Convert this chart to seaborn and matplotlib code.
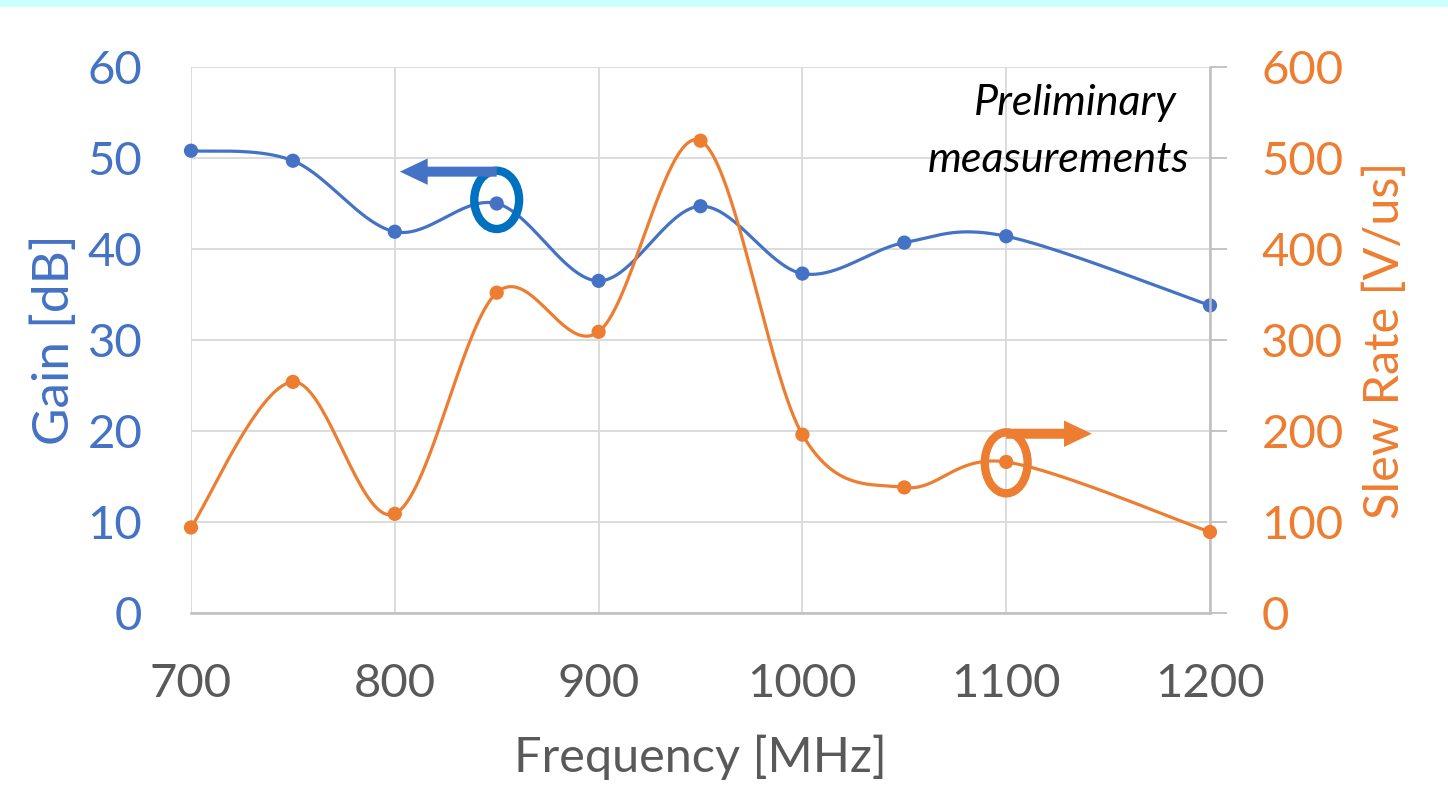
import numpy as np
import matplotlib
matplotlib.use("Agg")
import matplotlib.pyplot as plt
from matplotlib.patches import Ellipse
import seaborn as sns
import pandas as pd

# Measured amplifier performance versus frequency
freq_mhz = [700, 750, 800, 850, 900, 950, 1000, 1050, 1100, 1200]
gain_db = [50.8, 49.7, 41.9, 45.0, 36.5, 44.7, 37.3, 40.7, 41.4, 33.8]
slew_rate = [94, 254, 109, 352, 309, 519, 196, 138, 166, 89]

x_ticks = [700, 800, 900, 1000, 1100, 1200]
gain_ticks = [0, 10, 20, 30, 40, 50, 60]
slew_ticks = [0, 100, 200, 300, 400, 500, 600]

BLUE = "#4472C4"
ORANGE = "#ED7D31"
DARK_BLUE = "#0070C0"
GRID = "#D9D9D9"
AXIS_GRAY = "#BFBFBF"
TEXT_GRAY = "#595959"

W, H = 1448, 794
AX_L, AX_R, AX_T, AX_B = 191, 1210, 67, 613


def smooth_curve(xs, ys, n=40, tension=1 / 6):
    """Smoothed polyline through the points (cubic Bezier segments)."""
    xs = np.asarray(xs, float)
    ys = np.asarray(ys, float)
    px = np.concatenate([[xs[0]], xs, [xs[-1]]])
    py = np.concatenate([[ys[0]], ys, [ys[-1]]])
    out_x, out_y = [], []
    t = np.linspace(0, 1, n)
    for i in range(1, len(px) - 2):
        p0 = np.array([px[i], py[i]])
        p3 = np.array([px[i + 1], py[i + 1]])
        c1 = p0 + (np.array([px[i + 1], py[i + 1]]) - np.array([px[i - 1], py[i - 1]])) * tension
        c2 = p3 - (np.array([px[i + 2], py[i + 2]]) - np.array([px[i], py[i]])) * tension
        b = ((1 - t) ** 3)[:, None] * p0 + (3 * (1 - t) ** 2 * t)[:, None] * c1 \
            + (3 * (1 - t) * t ** 2)[:, None] * c2 + (t ** 3)[:, None] * p3
        out_x.extend(b[:, 0])
        out_y.extend(b[:, 1])
    return np.array(out_x), np.array(out_y)


sns.set_theme(style="white")
plt.rcParams["font.family"] = ["Lato", "DejaVu Sans"]

fig = plt.figure(figsize=(W / 100, H / 100), dpi=100)
fig.patch.set_facecolor("white")
# thin cyan band along the top edge
fig.add_artist(plt.Rectangle((0, 1 - 7 / H), 1, 7 / H, transform=fig.transFigure,
                             facecolor="#CCFFFF", edgecolor="none"))

ax = fig.add_axes([AX_L / W, 1 - AX_B / H, (AX_R - AX_L) / W, (AX_B - AX_T) / H])
ax2 = ax.twinx()

gx, gy = smooth_curve(freq_mhz, gain_db)
sx, sy = smooth_curve(freq_mhz, slew_rate)

df = pd.DataFrame({"freq": freq_mhz, "gain": gain_db, "slew": slew_rate})

sns.lineplot(x=gx, y=gy, ax=ax, color=BLUE, linewidth=2.3, sort=False, zorder=3)
sns.scatterplot(data=df, x="freq", y="gain", ax=ax, color=BLUE, s=105,
                edgecolor="none", zorder=4)
sns.lineplot(x=sx, y=sy, ax=ax2, color=ORANGE, linewidth=2.3, sort=False, zorder=3)
sns.scatterplot(data=df, x="freq", y="slew", ax=ax2, color=ORANGE, s=105,
                edgecolor="none", zorder=4)
for coll in ax.collections + ax2.collections:
    coll.set_clip_on(False)

ax.set_xlim(700, 1200)
ax.set_ylim(0, 60)
ax2.set_ylim(0, 600)
ax.set_xticks(x_ticks)
ax.set_yticks(gain_ticks)
ax2.set_yticks(slew_ticks)

ax.grid(True, color=GRID, linewidth=1.3)
ax2.grid(False)
for sp in ["top", "left", "right"]:
    ax.spines[sp].set_visible(False)
    ax2.spines[sp].set_visible(False)
ax.spines["bottom"].set_color(AXIS_GRAY)
ax.spines["bottom"].set_linewidth(1.8)
ax2.spines["bottom"].set_visible(False)
ax2.spines["right"].set_visible(True)
ax2.spines["right"].set_color(AXIS_GRAY)
ax2.spines["right"].set_linewidth(1.8)

ax.tick_params(axis="x", length=0, pad=36, labelsize=34, labelcolor=TEXT_GRAY)
ax.tick_params(axis="y", length=0, pad=35, labelsize=34, labelcolor=BLUE)
ax2.tick_params(axis="y", length=12, width=1.3, color=AXIS_GRAY, pad=25,
                labelsize=34, labelcolor=ORANGE, right=True)

ax.set_xlabel("Frequency [MHz]", fontsize=35, color=TEXT_GRAY, labelpad=21)
ax.set_ylabel("Gain [dB]", fontsize=37, color=BLUE, labelpad=7)
ax2.set_ylabel("Slew Rate [V/us]", fontsize=35, color=ORANGE, labelpad=14)

# note in the upper right corner
note_kw = dict(transform=ax.transAxes, ha="right", va="baseline", fontsize=31,
               style="italic", color="black", zorder=6)
ax.text((1177 - AX_L) / (AX_R - AX_L), (AX_B - 115) / (AX_B - AX_T), "Preliminary", **note_kw)
ax.text((1189 - AX_L) / (AX_R - AX_L), (AX_B - 172) / (AX_B - AX_T), "measurements", **note_kw)

# series markers: ring around a point with an arrow toward its axis
arrow_kw = dict(width=7.2, headwidth=19, headlength=20, shrink=0, linewidth=0)
ax2.add_patch(Ellipse((850, 454), width=22, height=64, fill=False,
                      edgecolor=DARK_BLUE, linewidth=6, zorder=5))
ax2.annotate("", xy=(802.5, 485), xytext=(850, 485),
             arrowprops=dict(facecolor=BLUE, **arrow_kw), zorder=5)
ax2.add_patch(Ellipse((1100, 165), width=21, height=67, fill=False,
                      edgecolor=ORANGE, linewidth=6, zorder=5))
ax2.annotate("", xy=(1142, 197), xytext=(1100, 197),
             arrowprops=dict(facecolor=ORANGE, **arrow_kw), zorder=5)

fig.savefig("out.png", dpi=100)
